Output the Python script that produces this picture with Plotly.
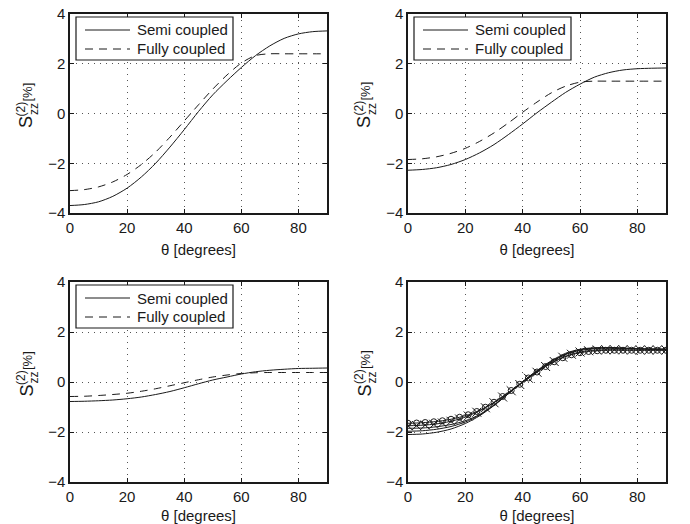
import plotly.graph_objects as go

# ---------------- data ----------------
theta = [0, 5, 10, 15, 20, 25, 30, 35, 40, 45, 50, 55, 60, 65, 70, 75, 80, 85, 90]
theta_m = [0, 3, 6, 9, 12, 15, 18, 21, 24, 27, 30, 33, 36, 39, 42, 45, 48, 51,
           54, 57, 60, 63, 66, 69, 72, 75, 78, 81, 84, 87, 90]

# panel (1,1)
semi_a = [-3.70, -3.66, -3.55, -3.33, -3.00, -2.55, -2.00, -1.35, -0.65, 0.08,
          0.75, 1.32, 1.85, 2.33, 2.72, 3.02, 3.20, 3.29, 3.32]
fully_a = [-3.10, -3.06, -2.95, -2.75, -2.45, -2.05, -1.55, -0.95, -0.30, 0.35,
           0.98, 1.55, 2.03, 2.33, 2.40, 2.40, 2.40, 2.40, 2.40]
# panel (1,2)
semi_b = [-2.28, -2.25, -2.18, -2.05, -1.85, -1.58, -1.25, -0.85, -0.42, 0.03,
          0.45, 0.85, 1.18, 1.46, 1.64, 1.75, 1.80, 1.82, 1.83]
fully_b = [-1.85, -1.82, -1.74, -1.60, -1.40, -1.12, -0.78, -0.38, 0.05, 0.46,
           0.83, 1.10, 1.26, 1.30, 1.30, 1.30, 1.30, 1.30, 1.30]
# panel (2,1)
semi_c = [-0.78, -0.77, -0.75, -0.72, -0.67, -0.60, -0.50, -0.38, -0.23, -0.07,
          0.08, 0.20, 0.32, 0.41, 0.47, 0.51, 0.54, 0.55, 0.56]
fully_c = [-0.58, -0.57, -0.54, -0.50, -0.45, -0.37, -0.27, -0.15, -0.03, 0.09,
           0.20, 0.28, 0.34, 0.37, 0.38, 0.38, 0.38, 0.38, 0.38]
# panel (2,2): family of curves
fam_1 = [-1.85, -1.84, -1.79, -1.70, -1.55, -1.30, -0.92, -0.47, 0.00, 0.42,
         0.80, 1.10, 1.26, 1.33, 1.35, 1.34, 1.33, 1.32, 1.32]
fam_2 = [-1.97, -1.95, -1.89, -1.78, -1.60, -1.32, -0.93, -0.47, 0.01, 0.44,
         0.82, 1.12, 1.29, 1.35, 1.37, 1.35, 1.33, 1.32, 1.31]
fam_3 = [-2.10, -2.08, -2.01, -1.88, -1.66, -1.35, -0.94, -0.47, 0.02, 0.46,
         0.85, 1.15, 1.31, 1.37, 1.38, 1.36, 1.33, 1.31, 1.30]
fam_x = [-1.75, -1.74, -1.72, -1.69, -1.64, -1.57, -1.48, -1.36, -1.21, -1.03,
         -0.83, -0.60, -0.35, -0.10, 0.15, 0.39, 0.62, 0.82, 0.99, 1.11, 1.20,
         1.25, 1.28, 1.29, 1.29, 1.29, 1.28, 1.28, 1.28, 1.28, 1.28]
fam_o = [-1.65, -1.64, -1.62, -1.59, -1.55, -1.49, -1.41, -1.31, -1.18, -1.01,
         -0.81, -0.58, -0.34, -0.09, 0.16, 0.40, 0.62, 0.81, 0.97, 1.09, 1.17,
         1.22, 1.25, 1.27, 1.27, 1.27, 1.27, 1.27, 1.27, 1.27, 1.27]

x_ticks = [0, 20, 40, 60, 80]
y_ticks = [-4, -2, 0, 2, 4]
legend_names = ["Semi coupled", "Fully coupled"]

# ---------------- layout geometry (pixels) ----------------
W, H = 690, 524
ML, MR, MT, MB = 70, 24, 14, 42
PW, PH = W - ML - MR, H - MT - MB


def px(x):
    return (x - ML) / PW


def py(y):
    return (H - MB - y) / PH


panels = {
    # name: (left, right, top, bottom) in pixels
    1: (70, 327, 14, 213),
    2: (408, 666, 14, 213),
    3: (70, 327, 282, 482),
    4: (408, 666, 282, 482),
}

FONT = "Liberation Sans, Arial, Helvetica, sans-serif"
INK = "#1a1a1a"
DASH = "8px,6px"
SMOOTH = dict(shape="spline", smoothing=0.8)

fig = go.Figure()


def ax_id(i):
    return ("x", "y") if i == 1 else (f"x{i}", f"y{i}")


def add_pair(i, semi, fully):
    xa, ya = ax_id(i)
    fig.add_trace(go.Scatter(x=theta, y=semi, mode="lines", name=legend_names[0],
                             line=dict(color=INK, width=1, **SMOOTH),
                             xaxis=xa, yaxis=ya, showlegend=False))
    fig.add_trace(go.Scatter(x=theta, y=fully, mode="lines", name=legend_names[1],
                             line=dict(color=INK, width=1, dash=DASH, **SMOOTH),
                             xaxis=xa, yaxis=ya, showlegend=False))


add_pair(1, semi_a, fully_a)
add_pair(2, semi_b, fully_b)
add_pair(3, semi_c, fully_c)

xa4, ya4 = ax_id(4)
for fam in (fam_1, fam_2, fam_3):
    fig.add_trace(go.Scatter(x=theta, y=fam, mode="lines", showlegend=False,
                             line=dict(color=INK, width=1, **SMOOTH),
                             xaxis=xa4, yaxis=ya4))
fig.add_trace(go.Scatter(x=theta_m, y=fam_o, mode="lines+markers", showlegend=False,
                         line=dict(color=INK, width=1, **SMOOTH),
                         marker=dict(symbol="circle-open", size=6, color=INK, line=dict(width=1)),
                         xaxis=xa4, yaxis=ya4))
fig.add_trace(go.Scatter(x=theta_m, y=fam_x, mode="lines+markers", showlegend=False,
                         line=dict(color=INK, width=1, **SMOOTH),
                         marker=dict(symbol="x-thin-open", size=9, color=INK, line=dict(width=1, color=INK)),
                         xaxis=xa4, yaxis=ya4))

layout = dict(
    width=W, height=H,
    margin=dict(l=ML, r=MR, t=MT, b=MB, pad=0, autoexpand=False),
    paper_bgcolor="white", plot_bgcolor="white",
    font=dict(family=FONT, size=15, color=INK),
    showlegend=False,
)

for i, (l, r, t, b) in panels.items():
    xa, ya = ax_id(i)
    xkey = "xaxis" if i == 1 else f"xaxis{i}"
    ykey = "yaxis" if i == 1 else f"yaxis{i}"
    common = dict(showline=True, linecolor=INK, linewidth=1.5, mirror="ticks",
                  ticks="inside", ticklen=4, tickcolor=INK, tickwidth=1,
                  showgrid=True, gridcolor="#555555", gridwidth=1, griddash="1px,5px",
                  zeroline=False, automargin=False,
                  tickfont=dict(family=FONT, size=15, color=INK))
    layout[xkey] = dict(domain=[px(l), px(r)], range=[0, 90], tickvals=x_ticks,
                        anchor=ya, title=dict(text="θ [degrees]", standoff=10,
                                              font=dict(family=FONT, size=15, color=INK)),
                        **common)
    layout[ykey] = dict(domain=[py(b), py(t)], range=[-4, 4], tickvals=y_ticks,
                        anchor=xa, **common)

fig.update_layout(**layout)

# boxed legends in the first three panels
for i in (1, 2, 3):
    l, r, t, b = panels[i]
    bx0, by0 = l + 6, t + 3
    bx1, by1 = bx0 + 157, by0 + 43
    fig.add_shape(type="rect", xref="paper", yref="paper",
                  x0=px(bx0), x1=px(bx1), y0=py(by1), y1=py(by0),
                  line=dict(color=INK, width=1.2), fillcolor="white", layer="above")
    for k, (name, dash) in enumerate(zip(legend_names, ["solid", DASH])):
        yy = by0 + 13 + 19 * k
        fig.add_shape(type="line", xref="paper", yref="paper",
                      x0=px(bx0 + 9), x1=px(bx0 + 54), y0=py(yy), y1=py(yy),
                      line=dict(color=INK, width=1, dash=dash), layer="above")
        fig.add_annotation(text=name, x=px(bx0 + 59), y=py(yy), xref="paper", yref="paper",
                           showarrow=False, xanchor="left", yanchor="middle",
                           font=dict(family=FONT, size=15, color=INK))

# stacked y-axis label S^(2)_zz [%] for each panel
for i, (l, r, t, b) in panels.items():
    c = (t + b) / 2
    dx = l - 70
    parts = [("S", 18, 26.5, c + 9), ("(2)", 12, 21.0, c - 5),
             ("zz", 12, 33.5, c - 4), ("[%]", 13, 27, c - 22)]
    for txt, size, x, y in parts:
        fig.add_annotation(text=txt, x=px(x + dx), y=py(y), xref="paper", yref="paper",
                           showarrow=False, textangle=-90, xanchor="center", yanchor="middle",
                           font=dict(family=FONT, size=size, color=INK))

fig.write_html("out.html")
